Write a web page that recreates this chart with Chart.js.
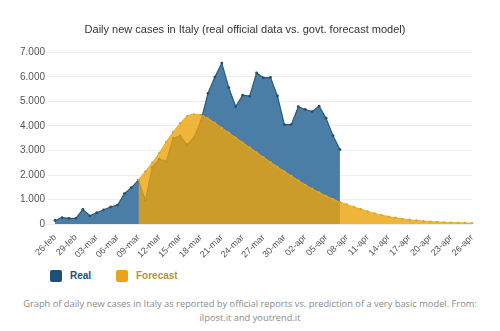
<!DOCTYPE html>
<html>
<head>
<meta charset="utf-8">
<script src="https://cdn.jsdelivr.net/npm/chart.js@4"></script>
<style>
  body { margin: 0; background: #fff; position: relative; width: 500px; height: 331px; }
  #wrap { position: absolute; left: 0; top: 0; width: 500px; height: 260px; }
  .voce {
    position: absolute; top: 270px; height: 12px; line-height: 12px;
    font-family: "Liberation Sans", sans-serif; font-size: 10px; font-weight: bold;
  }
  .voce span {
    display: inline-block; width: 12px; height: 12px; border-radius: 2px;
    vertical-align: top; margin-right: 8px;
  }
  #caption {
    position: absolute; left: 15px; top: 297px; width: 470px; text-align: center;
    font-family: "Open Sans", sans-serif; font-size: 9.3px; line-height: 14px; color: #8a8a8a;
  }
</style>
</head>
<body>
<div id="wrap"><canvas id="grafico"></canvas></div>
<div class="voce" style="left:50px; color:#1d4f7c"><span style="background:#1d4f7c"></span>Real</div>
<div class="voce" style="left:116px; color:#b8923a"><span style="background:#e8a41c"></span>Forecast</div>
<div id="caption">Graph of daily new cases in Italy as reported by official reports vs. prediction of a very basic model. From: ilpost.it and youtrend.it</div>
<script>
// giorni dal 26-feb al 26-apr
const giorni = [
  '26-feb', '27-feb', '28-feb', '29-feb',
  '01-mar', '02-mar', '03-mar', '04-mar', '05-mar', '06-mar', '07-mar', '08-mar', '09-mar', '10-mar',
  '11-mar', '12-mar', '13-mar', '14-mar', '15-mar', '16-mar', '17-mar', '18-mar', '19-mar', '20-mar',
  '21-mar', '22-mar', '23-mar', '24-mar', '25-mar', '26-mar', '27-mar', '28-mar', '29-mar', '30-mar', '31-mar',
  '01-apr', '02-apr', '03-apr', '04-apr', '05-apr', '06-apr', '07-apr', '08-apr', '09-apr', '10-apr',
  '11-apr', '12-apr', '13-apr', '14-apr', '15-apr', '16-apr', '17-apr', '18-apr', '19-apr', '20-apr',
  '21-apr', '22-apr', '23-apr', '24-apr', '25-apr', '26-apr'
];

// casi reali (fino al 07-apr)
const reali = [
  150, 270, 240, 240,
  600, 342, 466, 587, 700, 778, 1247, 1492, 1797, 977,
  2313, 2651, 2547, 3497, 3590, 3233, 3526, 4207, 5322, 5986,
  6557, 5560, 4789, 5249, 5210, 6153, 5959, 5974, 5217, 4050, 4053,
  4782, 4668, 4585, 4805, 4316, 3599, 3039
];

// previsione del modello (dal 09-mar)
const previsione = [
  null, null, null, null, null, null, null, null, null, null, null, null,
  1800, 2150, 2500, 2900, 3350, 3750, 4100, 4400, 4470, 4450,
  4300, 4120, 3920, 3720, 3520, 3320, 3120, 2920, 2720, 2520,
  2330, 2150, 1960, 1780, 1600, 1440, 1290, 1150, 1020, 900,
  800, 700, 610, 520, 440, 370, 310, 260, 215, 180,
  150, 125, 105, 90, 75, 65, 55, 50, 45, 40
];

const tickY = [0, 1000, 2000, 3000, 4000, 5000, 6000, 7000];

function formatoIt(v) {
  return v.toString().replace(/\B(?=(\d{3})+(?!\d))/g, '.');
}

const ctx = document.getElementById('grafico').getContext('2d');
const grafico = new Chart(ctx, {
  type: 'line',
  data: {
    labels: giorni,
    datasets: [{
      label: 'Real',
      data: reali,
      order: 2,
      fill: 'origin',
      backgroundColor: '#4a7ea6',
      borderColor: '#2a5a80',
      borderWidth: 1.2,
      pointRadius: 1.4,
      pointBackgroundColor: '#24506f',
      pointBorderWidth: 0,
      tension: 0
    }, {
      label: 'Forecast',
      data: previsione,
      order: 1,
      fill: 'origin',
      backgroundColor: 'rgba(236,164,11,0.8)',
      borderColor: '#e6ac2a',
      borderWidth: 1,
      pointRadius: 1.2,
      pointBackgroundColor: '#dfa42a',
      pointBorderWidth: 0,
      tension: 0.3
    }]
  },
  options: {
    responsive: true,
    maintainAspectRatio: false,
    animation: false,
    layout: { padding: { left: 18, right: 28, top: 23, bottom: 0 } },
    plugins: {
      title: {
        display: true,
        text: 'Daily new cases in Italy (real official data vs. govt. forecast model)',
        color: '#333',
        font: { family: 'Liberation Sans', size: 11, weight: 'normal' },
        padding: { top: 0, bottom: 16 }
      },
      legend: { display: false },
      tooltip: { enabled: false }
    },
    scales: {
      x: {
        offset: false,
        grid: { display: false },
        border: { display: false },
        ticks: {
          autoSkip: false,
          maxRotation: 45,
          minRotation: 45,
          color: '#555',
          padding: 0,
          font: { family: 'Liberation Sans', size: 9 },
          callback: function(value, index) {
            return index % 3 === 0 ? giorni[index] : null;
          }
        }
      },
      y: {
        min: 0,
        max: 7000,
        afterBuildTicks: function(axis) {
          axis.ticks = tickY.map(v => ({ value: v }));
        },
        grid: { color: '#eeeeee' },
        border: { display: false },
        ticks: {
          color: '#555',
          padding: 2,
          font: { family: 'Liberation Sans', size: 10 },
          callback: function(value) { return formatoIt(value); }
        }
      }
    }
  }
});
</script>
</body>
</html>
